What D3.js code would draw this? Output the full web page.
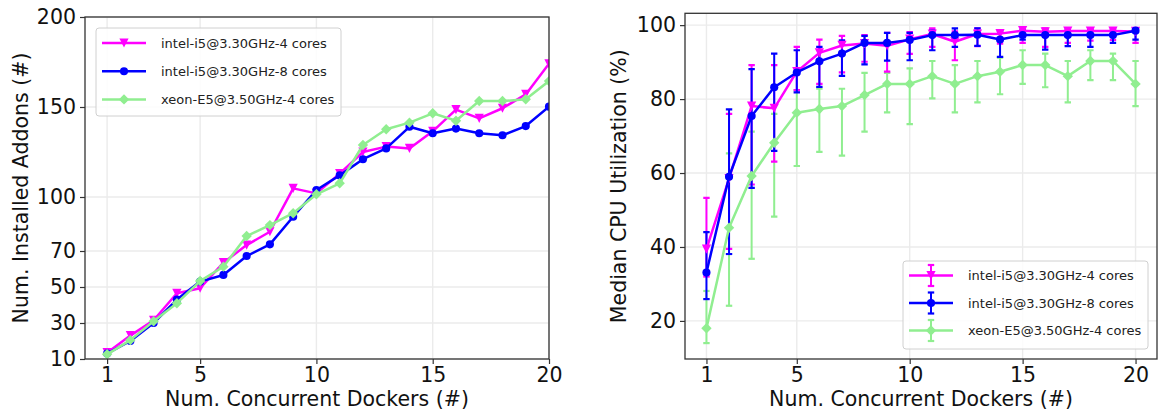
<!DOCTYPE html>
<html>
<head>
<meta charset="utf-8">
<script src="https://cdn.jsdelivr.net/npm/d3@7"></script>
<style>
  body { margin: 0; background: #fff; }
  svg text { font-family: "DejaVu Sans", sans-serif; }
</style>
</head>
<body>
<svg id="chart" width="1158" height="415"></svg>
<script>
// ---- data -------------------------------------------------------------
const dockers = [1, 2, 3, 4, 5, 6, 7, 8, 9, 10, 11, 12, 13, 14, 15, 16, 17, 18, 19, 20];
const seriesNames = ["intel-i5@3.30GHz-4 cores", "intel-i5@3.30GHz-8 cores", "xeon-E5@3.50GHz-4 cores"];

// installed addons per number of concurrent dockers
const addonsI5x4 = [13.5, 23, 31.5, 46.5, 49.3, 63.5, 73.3, 80.7, 104.8, 102, 113, 125, 128, 127, 136.5, 148.5, 143.7, 149.3, 157, 174];
const addonsI5x8 = [13, 20, 30, 43, 53, 56.7, 67.2, 73.7, 89, 103.9, 112, 121, 127, 139, 135.4, 138, 135.4, 134.3, 139.4, 150.2];
const addonsXeon = [12.6, 20.5, 31, 41, 53.3, 61.3, 78.3, 84.4, 91, 101.5, 107.6, 128.9, 137.6, 141.3, 146.5, 142.4, 153.3, 153.3, 154.3, 164.4];

// median CPU utilization, with lower / upper error bounds
const cpuI5x4 = [39.4, 58.5, 78.1, 77.5, 87.4, 92.5, 94.5, 95.0, 94.4, 96.2, 97.6, 95.5, 97.6, 97.7, 98.5, 98.2, 98.4, 98.4, 98.4, 98.3];
const cpuI5x4Low = [32.0, 39.5, 56.9, 63.1, 82.4, 84.1, 87.2, 90.1, 87.4, 92.2, 94.1, 90.5, 94.3, 95.0, 95.2, 94.1, 95.2, 95.8, 96.0, 95.2];
const cpuI5x4High = [53.3, 76.0, 89.2, 89.2, 94.1, 96.1, 97.1, 97.3, 97.9, 98.1, 99.1, 98.3, 99.1, 98.6, 99.1, 99.1, 99.1, 99.1, 99.1, 99.1];

const cpuI5x8 = [33.1, 59.0, 75.4, 83.2, 87.2, 90.2, 92.3, 95.2, 95.2, 96.0, 97.3, 97.3, 97.4, 96.1, 97.3, 97.3, 97.3, 97.3, 97.3, 98.5];
const cpuI5x8Low = [25.9, 38.1, 56.0, 66.0, 81.8, 83.3, 86.3, 89.4, 90.4, 90.5, 93.2, 94.1, 94.4, 91.4, 96.1, 93.4, 94.3, 94.1, 95.2, 96.1];
const cpuI5x8High = [44.0, 77.2, 88.1, 92.3, 93.2, 94.1, 95.9, 97.1, 97.9, 97.9, 98.6, 99.1, 99.1, 98.3, 98.6, 98.6, 98.6, 98.6, 98.6, 99.1];

const cpuXeon = [18.0, 45.2, 59.2, 68.2, 76.3, 77.3, 78.1, 81.1, 84.1, 84.1, 86.2, 84.1, 86.2, 87.4, 89.2, 89.2, 86.2, 90.3, 90.3, 84.1];
const cpuXeonLow = [14.0, 24.1, 36.8, 48.2, 61.9, 65.7, 64.7, 71.2, 76.4, 73.2, 80.2, 76.4, 79.1, 81.3, 84.1, 83.2, 79.1, 85.1, 85.1, 78.1];
const cpuXeonHigh = [28.1, 65.3, 71.2, 76.0, 82.4, 82.8, 82.8, 87.1, 87.1, 88.3, 90.3, 89.2, 90.3, 91.2, 93.2, 92.3, 90.3, 93.2, 92.3, 90.3];

// tick labels
const xTicks = [1, 5, 10, 15, 20];
const addonsTicks = [10, 30, 50, 70, 100, 150, 200];
const cpuTicks = [20, 40, 60, 80, 100];

const xLabel = "Num. Concurrent Dockers (#)";
const addonsLabel = "Num. Installed Addons (#)";
const cpuLabel = "Median CPU Utilization (%)";

// ---- styling ----------------------------------------------------------
const colors = ["#ff00ff", "#0000ff", "#90ee90"];
const markers = ["tri", "circle", "diamond"];
const FONT = 20.5;

const svg = d3.select("#chart");

function markerPath(kind) {
  if (kind === "tri") { const r = 4.6; return `M${-r},${-r}L${r},${-r}L0,${r}Z`; }
  if (kind === "diamond") { const r = 5.2; return `M0,${-r}L${r},0L0,${r}L${-r},0Z`; }
  return d3.symbol(d3.symbolCircle, 52)();
}

function drawPanel(cfg) {
  const g = svg.append("g");
  const { left, right, top, bottom } = cfg.box;
  const x = d3.scaleLinear().domain(cfg.xDomain).range([left, right]);
  const y = d3.scaleLinear().domain(cfg.yDomain).range([bottom, top]);

  const clipId = "clip" + cfg.id;
  g.append("clipPath").attr("id", clipId)
    .append("rect").attr("x", left).attr("y", top - 6)
    .attr("width", right - left).attr("height", bottom - top + 6);

  // grid
  const grid = g.append("g").attr("stroke", "#ebebeb").attr("stroke-width", 1.4);
  grid.selectAll(".gx").data(xTicks).join("line")
    .attr("x1", d => x(d)).attr("x2", d => x(d)).attr("y1", top).attr("y2", bottom);
  grid.selectAll(".gy").data(cfg.yTicks).join("line")
    .attr("x1", left).attr("x2", right).attr("y1", d => y(d)).attr("y2", d => y(d));

  // axes
  const xAxis = g.append("g").attr("transform", `translate(0,${bottom})`)
    .call(d3.axisBottom(x).tickValues(xTicks).tickSize(5).tickPadding(3));
  const yAxis = g.append("g").attr("transform", `translate(${left},0)`)
    .call(d3.axisLeft(y).tickValues(cfg.yTicks).tickSize(5).tickPadding(4));
  [xAxis, yAxis].forEach(a => {
    a.select(".domain").remove();
    a.selectAll(".tick line").attr("stroke", "#333").attr("stroke-width", 1.2);
    a.selectAll(".tick text").attr("fill", "#111").style("font-size", FONT + "px")
      .style("font-family", "DejaVu Sans");
  });

  // data
  const plot = g.append("g").attr("clip-path", `url(#${clipId})`);
  const order = cfg.drawOrder;

  if (cfg.errors) {
    order.forEach(i => {
      const s = cfg.series[i];
      const eg = plot.append("g").attr("stroke", colors[i]).attr("stroke-width", 2);
      dockers.forEach((d, k) => {
        const xp = x(d);
        eg.append("line").attr("x1", xp).attr("x2", xp)
          .attr("y1", y(s.low[k])).attr("y2", y(s.high[k]));
        [s.low[k], s.high[k]].forEach(v => {
          eg.append("line").attr("x1", xp - 3.2).attr("x2", xp + 3.2)
            .attr("y1", y(v)).attr("y2", y(v)).attr("stroke-width", 2.2);
        });
      });
    });
  }

  order.forEach(i => {
    const s = cfg.series[i];
    const pts = dockers.map((d, k) => [d, s.values[k]]);
    plot.append("path").datum(pts)
      .attr("fill", "none").attr("stroke", colors[i]).attr("stroke-width", 2.5)
      .attr("stroke-linejoin", "round")
      .attr("d", d3.line().x(p => x(p[0])).y(p => y(p[1])));
    plot.append("g").selectAll("path").data(pts).join("path")
      .attr("transform", p => `translate(${x(p[0])},${y(p[1])})`)
      .attr("d", markerPath(markers[i]))
      .attr("fill", colors[i]);
  });

  // frame
  g.append("rect").attr("x", left).attr("y", top)
    .attr("width", right - left).attr("height", bottom - top)
    .attr("fill", "none").attr("stroke", "#333").attr("stroke-width", 1.3);

  // axis titles
  g.append("text").attr("x", (left + right) / 2).attr("y", 406)
    .attr("text-anchor", "middle").attr("fill", "#111")
    .style("font-size", FONT + "px").text(xLabel);
  g.append("text")
    .attr("transform", `translate(${cfg.yLabelX},${(top + bottom) / 2}) rotate(-90)`)
    .attr("text-anchor", "middle").attr("fill", "#111")
    .style("font-size", FONT + "px").text(cfg.yLabel);

  // legend
  const L = cfg.legend;
  const lg = g.append("g");
  lg.append("rect").attr("x", L.x).attr("y", L.y).attr("width", L.w).attr("height", L.h)
    .attr("rx", 3).attr("fill", "#fff").attr("fill-opacity", 0.85)
    .attr("stroke", "#d0d0d0").attr("stroke-width", 1);
  seriesNames.forEach((name, i) => {
    const cy = L.y + L.rowStart + i * L.rowGap;
    const hx1 = L.x + 6, hx2 = L.x + 50, hm = (hx1 + hx2) / 2;
    lg.append("line").attr("x1", hx1).attr("x2", hx2).attr("y1", cy).attr("y2", cy)
      .attr("stroke", colors[i]).attr("stroke-width", 2.5);
    if (cfg.errors) {
      lg.append("line").attr("x1", hm).attr("x2", hm).attr("y1", cy - 10.5).attr("y2", cy + 10.5)
        .attr("stroke", colors[i]).attr("stroke-width", 2);
      [cy - 10.5, cy + 10.5].forEach(v => lg.append("line")
        .attr("x1", hm - 3.2).attr("x2", hm + 3.2).attr("y1", v).attr("y2", v)
        .attr("stroke", colors[i]).attr("stroke-width", 2.2));
    }
    lg.append("path").attr("transform", `translate(${hm},${cy})`)
      .attr("d", markerPath(markers[i])).attr("fill", colors[i]);
    lg.append("text").attr("x", L.x + 65).attr("y", cy + 4.7)
      .attr("fill", "#222").style("font-size", "13px").text(name);
  });
}

drawPanel({
  id: "addons",
  box: { left: 85, right: 549, top: 17, bottom: 359 },
  xDomain: [0.05, 20],
  yDomain: [10, 200],
  yTicks: addonsTicks,
  yLabel: addonsLabel,
  yLabelX: 27.5,
  errors: false,
  drawOrder: [0, 1, 2],
  series: [
    { values: addonsI5x4 },
    { values: addonsI5x8 },
    { values: addonsXeon }
  ],
  legend: { x: 96, y: 28, w: 245, h: 88, rowStart: 15, rowGap: 28.2 }
});

drawPanel({
  id: "cpu",
  box: { left: 685, right: 1157, top: 13.3, bottom: 359 },
  xDomain: [0.05, 20.95],
  yDomain: [9.7, 103.2],
  yTicks: cpuTicks,
  yLabel: cpuLabel,
  yLabelX: 626,
  errors: true,
  drawOrder: [2, 0, 1],
  series: [
    { values: cpuI5x4, low: cpuI5x4Low, high: cpuI5x4High },
    { values: cpuI5x8, low: cpuI5x8Low, high: cpuI5x8High },
    { values: cpuXeon, low: cpuXeonLow, high: cpuXeonHigh }
  ],
  legend: { x: 903, y: 261, w: 245, h: 88, rowStart: 14.5, rowGap: 27.5 }
});
</script>
</body>
</html>
